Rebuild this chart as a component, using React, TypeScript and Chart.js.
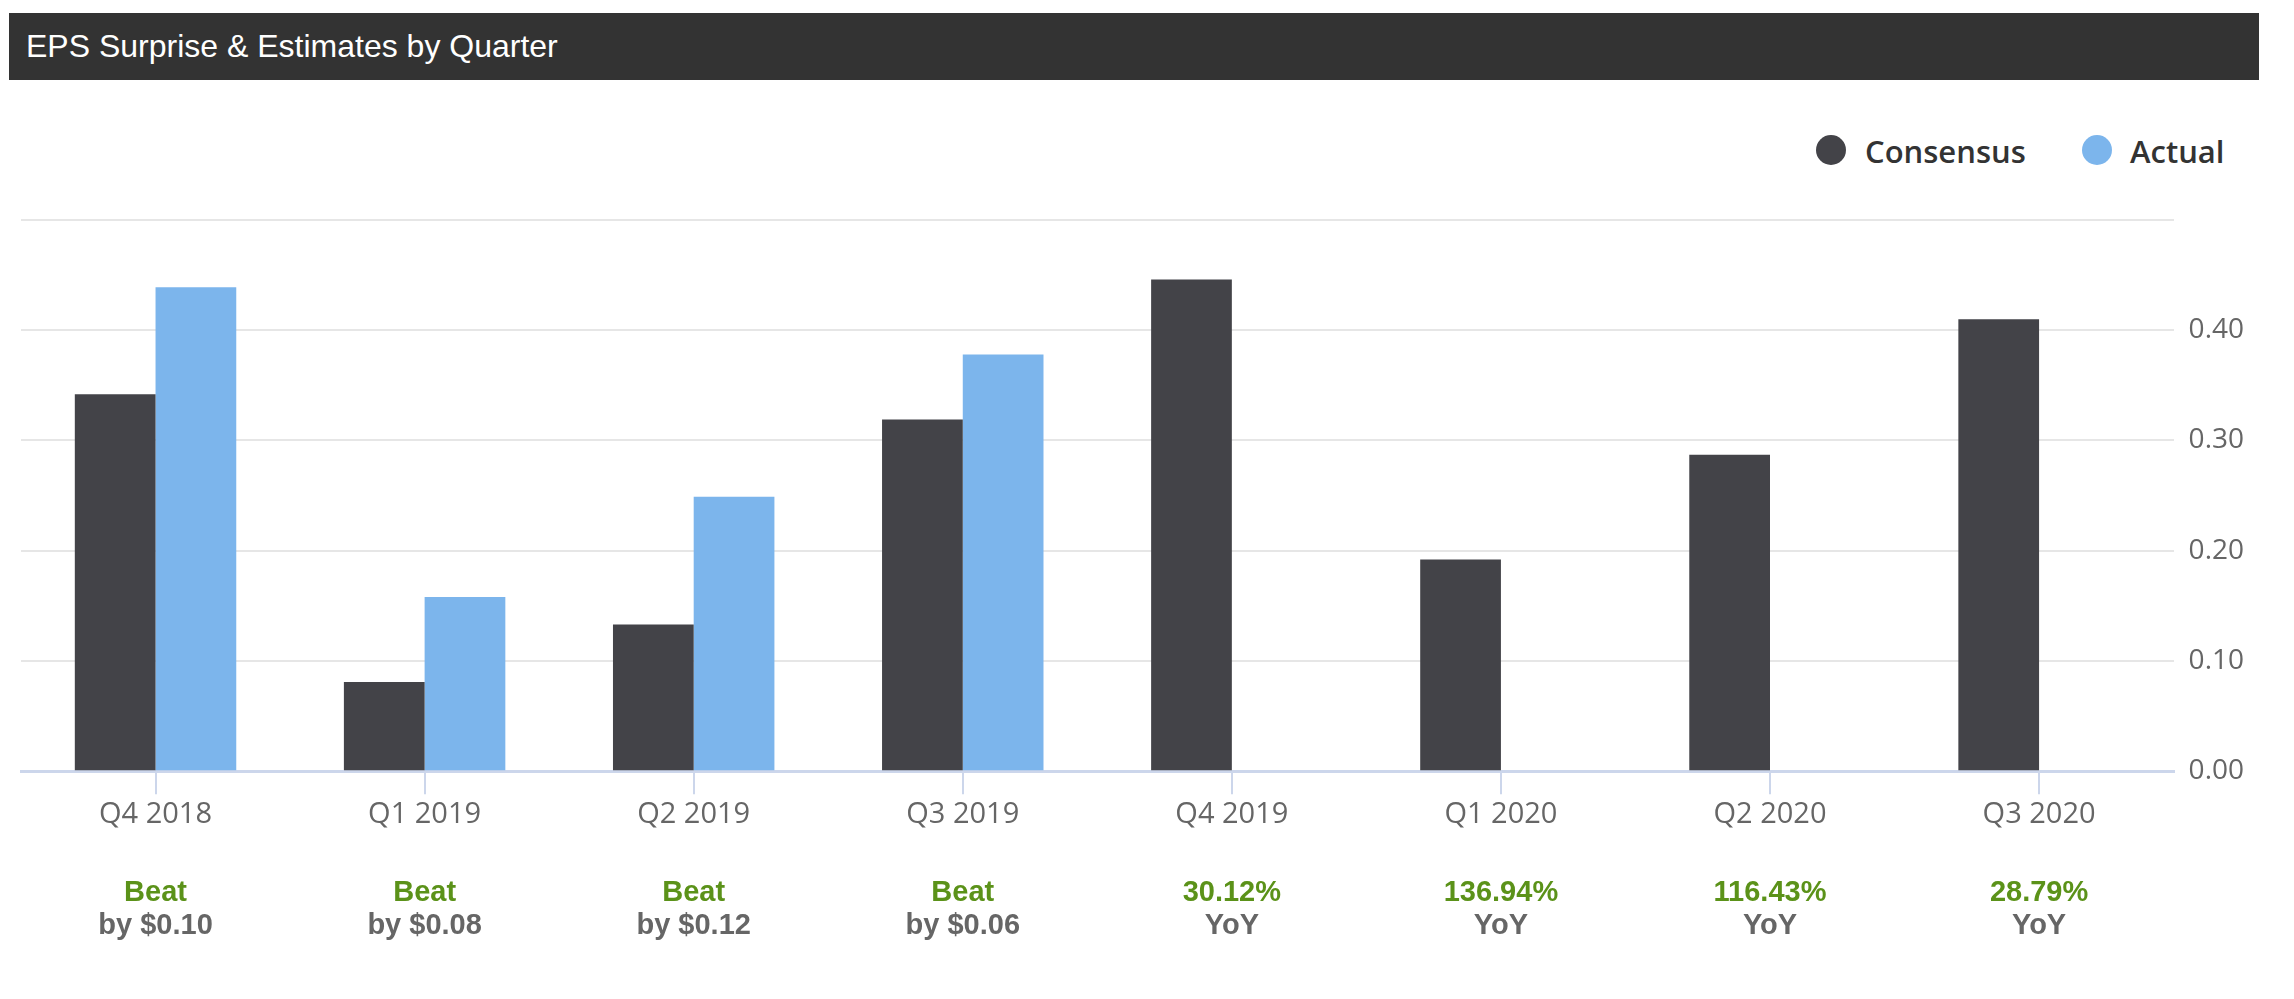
import { useEffect, useRef } from "react";
import { Chart, ChartConfiguration, Plugin, registerables } from "chart.js";

Chart.register(...registerables);

const quarters = ["Q4 2018", "Q1 2019", "Q2 2019", "Q3 2019", "Q4 2019", "Q1 2020", "Q2 2020", "Q3 2020"];
const consensus = [0.342, 0.081, 0.133, 0.319, 0.446, 0.192, 0.287, 0.41];
const actual = [0.439, 0.158, 0.249, 0.378, null, null, null, null];
const surpriseTop = ["Beat", "Beat", "Beat", "Beat", "30.12%", "136.94%", "116.43%", "28.79%"];
const surpriseBottom = ["by $0.10", "by $0.08", "by $0.12", "by $0.06", "YoY", "YoY", "YoY", "YoY"];
const yMax = 0.5;
const yStep = 0.1;

const CONSENSUS_COLOR = "#434348";
const ACTUAL_COLOR = "#7cb5ec";
const AXIS_FONT = '"Open Sans", "Noto Sans", sans-serif';

// text under each quarter: beat/miss or YoY growth
const surprisePlugin: Plugin<"bar"> = {
  id: "surpriseLabels",
  afterDraw(chart) {
    const { ctx, chartArea, scales } = chart;
    const x = scales.x;
    ctx.save();
    ctx.textAlign = "center";
    ctx.textBaseline = "alphabetic";
    ctx.font = 'bold 29px "Liberation Sans", Arial, sans-serif';
    surpriseTop.forEach((top, i) => {
      const px = x.getPixelForValue(i);
      ctx.fillStyle = "#5b9219";
      ctx.fillText(top, px, chartArea.bottom + 130);
      ctx.fillStyle = "#666666";
      ctx.fillText(surpriseBottom[i], px, chartArea.bottom + 163);
    });
    ctx.restore();
  },
};

function EpsChart() {
  const canvasRef = useRef<HTMLCanvasElement>(null);
  const chartRef = useRef<Chart | null>(null);

  useEffect(() => {
    if (!canvasRef.current) return;
    if (chartRef.current) chartRef.current.destroy();

    const config: ChartConfiguration<"bar"> = {
      type: "bar",
      data: {
        labels: quarters,
        datasets: [
          {
            label: "Consensus",
            data: consensus,
            backgroundColor: CONSENSUS_COLOR,
            categoryPercentage: 0.6,
            barPercentage: 1.0,
          },
          {
            label: "Actual",
            data: actual as (number | null)[],
            backgroundColor: ACTUAL_COLOR,
            categoryPercentage: 0.6,
            barPercentage: 1.0,
          },
        ],
      },
      options: {
        responsive: true,
        maintainAspectRatio: false,
        animation: false,
        layout: { padding: { top: 140, left: 21, right: 35, bottom: 164 } },
        plugins: {
          legend: { display: false },
          tooltip: { enabled: false },
        },
        scales: {
          x: {
            grid: {
              display: true,
              drawOnChartArea: false,
              drawTicks: true,
              tickLength: 23,
              color: "#ccd6eb",
              lineWidth: 2,
              offset: false,
            },
            border: { display: true, color: "#ccd6eb", width: 3 },
            ticks: {
              color: "#666666",
              padding: 3,
              font: { family: AXIS_FONT, size: 29 },
              maxRotation: 0,
            },
          },
          y: {
            position: "right",
            min: 0,
            max: yMax,
            grid: { color: "#e6e6e6", lineWidth: 2, drawTicks: false },
            border: { display: false },
            ticks: {
              stepSize: yStep,
              padding: 15,
              color: "#666666",
              font: { family: AXIS_FONT, size: 28 },
              callback: (v) => (Number(v) >= yMax - 1e-9 ? "" : Number(v).toFixed(2)),
            },
          },
        },
      },
      plugins: [surprisePlugin],
    };

    chartRef.current = new Chart(canvasRef.current, config);

    return () => {
      if (chartRef.current) {
        chartRef.current.destroy();
        chartRef.current = null;
      }
    };
  }, []);

  return <canvas ref={canvasRef} />;
}

export default function App() {
  const legendText: React.CSSProperties = {
    position: "absolute",
    top: 136,
    lineHeight: "31px",
    fontSize: 31,
    fontWeight: 600,
    fontFamily: AXIS_FONT,
    color: "#333333",
    whiteSpace: "nowrap",
  };
  const dot = (color: string, left: number): React.CSSProperties => ({
    position: "absolute",
    left,
    top: 135,
    width: 30,
    height: 30,
    borderRadius: "50%",
    background: color,
  });

  return (
    <div style={{ position: "absolute", left: 0, top: 0, width: 2294, height: 999, background: "#fff" }}>
      <div
        style={{
          position: "absolute",
          left: 9,
          top: 13,
          width: 2250,
          height: 67,
          background: "#333333",
          color: "#ffffff",
          fontFamily: '"Liberation Sans", Arial, sans-serif',
          fontSize: 32,
          lineHeight: "67px",
          paddingLeft: 17,
          boxSizing: "border-box",
        }}
      >
        EPS Surprise &amp; Estimates by Quarter
      </div>
      <div style={dot(CONSENSUS_COLOR, 1816)} />
      <div style={{ ...legendText, left: 1865 }}>Consensus</div>
      <div style={dot(ACTUAL_COLOR, 2082)} />
      <div style={{ ...legendText, left: 2130 }}>Actual</div>
      <div style={{ position: "absolute", left: 0, top: 80, width: 2294, height: 919 }}>
        <EpsChart />
      </div>
    </div>
  );
}
